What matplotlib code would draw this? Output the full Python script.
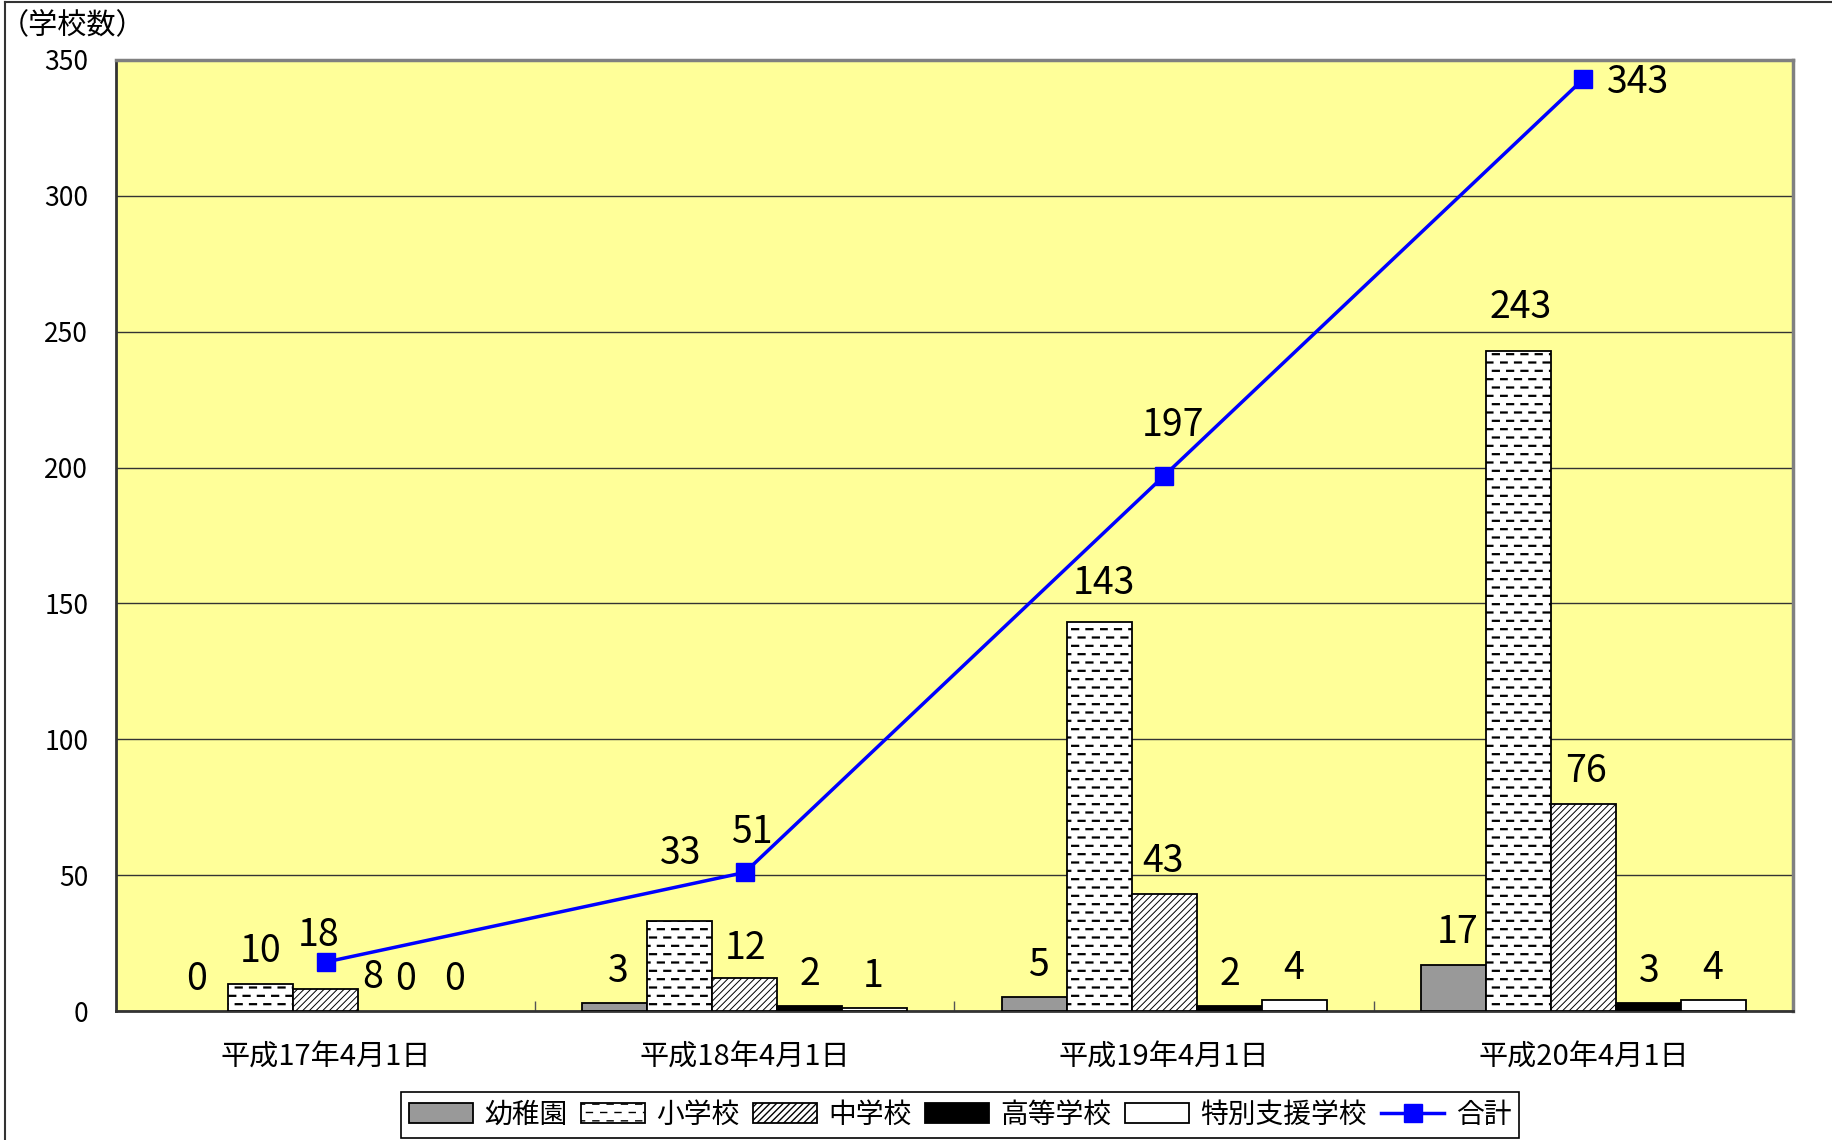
"""Number of schools per year (平成17-20), grouped bars plus the total line."""

import numpy as np
import matplotlib
matplotlib.use("Agg")
import matplotlib.pyplot as plt
from matplotlib import hatch as mhatch
from matplotlib.lines import Line2D
from matplotlib.patches import Patch

plt.rcParams["font.family"] = ["Noto Sans CJK JP", "DejaVu Sans"]

categories = ["平成17年4月1日", "平成18年4月1日", "平成19年4月1日", "平成20年4月1日"]
kindergarten = [0, 3, 5, 17]
elementary = [10, 33, 143, 243]
junior_high = [8, 12, 43, 76]
high_school = [0, 2, 2, 3]
special_support = [0, 1, 4, 4]
total = [18, 51, 197, 343]

series_names = ["幼稚園", "小学校", "中学校", "高等学校", "特別支援学校"]
total_name = "合計"
y_label = "（学校数）"
y_ticks = [0, 50, 100, 150, 200, 250, 300, 350]


class DashedRows(mhatch.HatchPatternBase):
    """Replace the '-' hatch by staggered short dashes (Excel style)."""

    def __init__(self, hatch, density):
        self.num_rows = int(hatch.count("-") * density)
        self.per_row = 7
        self.num_vertices = self.num_rows * self.per_row * 2

    def set_vertices_and_codes(self, vertices, codes):
        period = 1.0 / self.per_row
        k = 0
        for r in range(self.num_rows):
            y = (r + 0.5) / self.num_rows
            shift = 0.5 * period if r % 2 else 0.05 * period
            for j in range(self.per_row):
                x0 = j * period + shift
                vertices[k] = (x0, y)
                vertices[k + 1] = (x0 + 0.42 * period, y)
                codes[k] = mhatch.Path.MOVETO
                codes[k + 1] = mhatch.Path.LINETO
                k += 2


mhatch._hatch_types = [DashedRows if t is mhatch.HorizontalHatch else t
                       for t in mhatch._hatch_types]

# style of each bar series
styles = [
    dict(facecolor="#999999", hatch=None, hlw=1.0),
    dict(facecolor="white", hatch="--", hlw=1.6),
    dict(facecolor="white", hatch="/////", hlw=0.7),
    dict(facecolor="black", hatch=None, hlw=1.0),
    dict(facecolor="white", hatch=None, hlw=1.0),
]

# label offsets in screen px of the reduced image (dx, dy), per series / group
label_offsets = [
    [(1, 27), (3, 27), (4, 27), (4, 28)],
    [(0, 28), (1, 58), (4, 33), (2, 37)],
    [(40, 10), (1, 26), (-1, 28), (2, 28)],
    [(13, 27), (0, 27), (1, 27), (1, 27)],
    [(-1, 27), (-1, 27), (0, 27), (-1, 27)],
]
total_offsets = [(-6, 23), (6, 34), (8, 43), (47, -3)]
PX = 1.168 / (100 / 72)  # reduced-image px -> points

fig = plt.figure(figsize=(18.32, 11.4), dpi=100)
ax = fig.add_axes([116 / 1832, 129 / 1140, 1677 / 1832, 951 / 1140])
ax.set_facecolor("#FFFF99")

x = np.arange(len(categories))
width = 0.155
values = [kindergarten, elementary, junior_high, high_school, special_support]

handles = []
for i, (name, vals, st) in enumerate(zip(series_names, values, styles)):
    pos = x + (i - 2) * width
    with plt.rc_context({"hatch.linewidth": st["hlw"]}):
        bars = ax.bar(pos, vals, width, facecolor=st["facecolor"],
                      hatch=st["hatch"], edgecolor="black", linewidth=1.3,
                      zorder=3)
        handles.append(Patch(facecolor=st["facecolor"], hatch=st["hatch"],
                             edgecolor="black", linewidth=1.3, label=name))
    for b, v in zip(bars, vals):
        if v == 0:
            b.set_visible(False)
    for g, v in enumerate(vals):
        dx, dy = label_offsets[i][g]
        ax.annotate(str(v), (pos[g], v), xytext=(dx * PX, dy * PX),
                    textcoords="offset points", ha="center", va="center",
                    fontsize=27, zorder=6)

ax.plot(x, total, color="#0000FF", lw=2.5, marker="s", ms=13.5, zorder=5)
for g, v in enumerate(total):
    dx, dy = total_offsets[g]
    ax.annotate(str(v), (x[g], v), xytext=(dx * PX, dy * PX),
                textcoords="offset points", ha="center", va="center",
                fontsize=27, zorder=6)
handles.append(Line2D([], [], color="#0000FF", lw=2.5, marker="s", ms=13.5,
                      label=total_name))

ax.set_xlim(-0.5, len(categories) - 0.5)
ax.set_ylim(0, 350)
ax.set_yticks(y_ticks)
ax.set_xticks(x)
ax.set_xticklabels(categories)
ax.set_xticks(x[:-1] + 0.5, minor=True)
ax.tick_params(axis="y", length=0, pad=20, labelsize=19)
ax.tick_params(axis="x", which="major", length=0, pad=23, labelsize=21)
ax.tick_params(axis="x", which="minor", direction="in", length=7,
               color="#555555", width=1)
ax.grid(axis="y", color="#333333", linewidth=1)
ax.set_axisbelow(True)

for side in ("top", "right"):
    ax.spines[side].set_color("#808080")
    ax.spines[side].set_linewidth(2.5)
ax.spines["left"].set_color("#333333")
ax.spines["left"].set_linewidth(2)
ax.spines["bottom"].set_color("#333333")
ax.spines["bottom"].set_linewidth(2)

fig.text(0 / 1832, 1 - 26 / 1140, y_label, ha="left", va="center", fontsize=21)

leg = fig.legend(handles=handles, loc="center", ncol=6,
                 bbox_to_anchor=(960 / 1832, 1 - 1115 / 1140), fontsize=20,
                 frameon=True, fancybox=False, framealpha=1, edgecolor="black",
                 handlelength=2.3, handleheight=0.75, handletextpad=0.4,
                 columnspacing=0.5, borderpad=0.3)
leg.get_frame().set_linewidth(1.2)

# outer chart border (left and top edges visible)
fig.add_artist(Line2D([5 / 1832, 5 / 1832], [0, 1 - 1.5 / 1140],
                      transform=fig.transFigure, color="#333333", lw=1.5))
fig.add_artist(Line2D([5 / 1832, 1], [1 - 1.5 / 1140, 1 - 1.5 / 1140],
                      transform=fig.transFigure, color="#333333", lw=1.5))

fig.savefig("out.png", dpi=100)
